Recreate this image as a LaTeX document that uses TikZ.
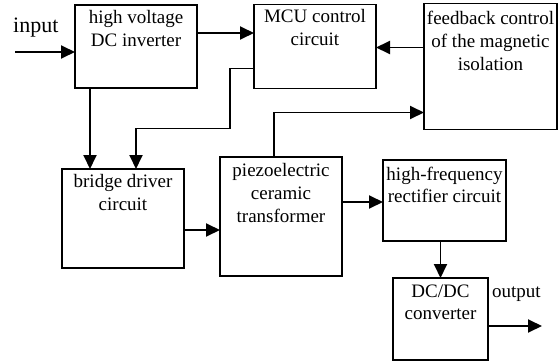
\documentclass[tikz,border=0pt]{standalone}
\usepackage{fontspec}
\setmainfont{Liberation Serif}
\usetikzlibrary{arrows.meta,positioning}

\begin{document}
\begin{tikzpicture}[x=1pt,y=-1pt,>={Triangle[length=14pt,width=13pt]},
  blk/.style={rectangle, draw, line width=1.9pt, inner sep=0pt, outer sep=0pt, minimum width=122pt},
  txt/.style={align=center, inner sep=1pt, font=\fontsize{19}{23}\selectfont},
  lnk/.style={->, line width=1.9pt}]
\useasboundingbox (0,0) rectangle (558,362);

\node (hv) [blk, minimum height=83pt, anchor=north west] at (75,5) {};
\node (mcu) [blk, minimum height=84pt, right=57pt of hv] {};
\node (fb) [blk, minimum width=133pt, minimum height=126pt, below right=-1pt and 48pt of mcu.north east] {};
\node (br) [blk, minimum height=99pt, below=81pt of hv.south, xshift=-13pt] {};
\node (pz) [blk, minimum height=119pt, right=36pt of br, yshift=2pt] {};
\node (hf) [blk, minimum width=123pt, minimum height=81pt, below right=3pt and 41pt of pz.north east] {};
\node (dc) [blk, minimum width=95pt, minimum height=82pt, below=37pt of hf, xshift=-4pt] {};

\node (hvtext) [txt, below=4pt of hv.north] {high voltage\\DC inverter};
\node (mcutext) [txt, below=4pt of mcu.north] {MCU control\\circuit};
\node (fbtext) [txt, below=6pt of fb.north] {feedback control\\of the magnetic\\isolation};
\node (brtext) [txt, below=4pt of br.north] {bridge driver\\circuit};
\node (pztext) [txt, below=5pt of pz.north] {piezoelectric\\ceramic\\transformer};
\node (hftext) [txt, below=6pt of hf.north, font=\fontsize{19}{22}\selectfont] {high-frequency\\rectifier circuit};
\node (dctext) [txt, below=6pt of dc.north, font=\fontsize{19}{22}\selectfont] {DC/DC\\converter};

\node (inlabel) [anchor=base west, inner sep=0pt, font=\fontsize{22}{26}\selectfont] at (13,32) {input};
\node (outlabel) [anchor=base west, inner sep=0pt, font=\fontsize{19}{23}\selectfont] at (492,297) {output};

\coordinate (in) at (15,52);
\coordinate (out) at (542,326);

\draw[lnk] (in) -- (in -| hv.west);
\draw[lnk] ([yshift=13.5pt]hv.east) -- ([yshift=13.5pt]hv.east -| mcu.west);
\draw[lnk] ([yshift=19pt]fb.west) -- ([yshift=19pt]fb.west -| mcu.east);
\draw[lnk] ([xshift=-46pt]hv.south) -- ([xshift=-46pt]hv.south |- br.north);
\draw[lnk] ([yshift=-22pt]mcu.west) -- ++(-24,0) -- ++(0,60) -| ([xshift=13pt]br.north);
\draw[lnk] ([xshift=-7pt]pz.north) |- ([yshift=-46pt]fb.west);
\draw[lnk] ([yshift=-11.5pt]br.east) -- ([yshift=-11.5pt]br.east -| pz.west);
\draw[lnk] ([yshift=14.5pt]pz.east) -- ([yshift=14.5pt]pz.east -| hf.west);
\draw[lnk] (hf.south -| dc.north) -- (dc.north);
\draw[lnk] ([yshift=-7pt]dc.east) -- (out);
\end{tikzpicture}
\end{document}
